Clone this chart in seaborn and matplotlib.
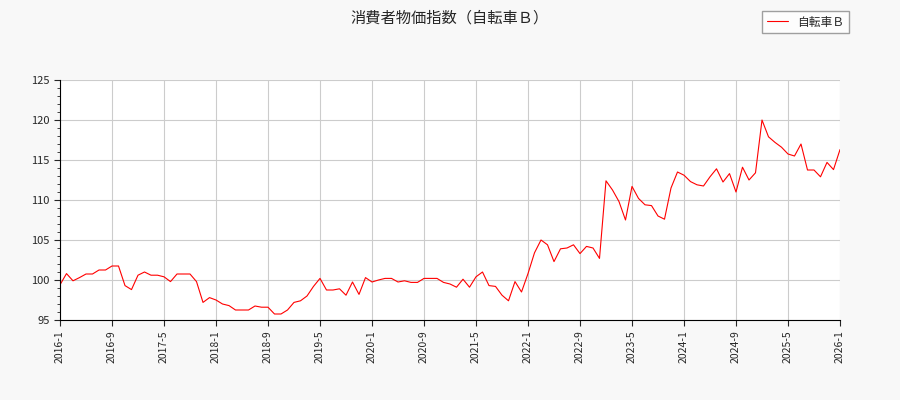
import matplotlib
matplotlib.use("Agg")
import matplotlib.pyplot as plt
import seaborn as sns
import pandas as pd
import numpy as np
from matplotlib.ticker import MultipleLocator

v2016 = [99.4,100.8,99.9,100.3,100.75,100.75,101.25,101.25,101.75,101.75,99.3,98.8]
v2017 = [100.6,101,100.6,100.6,100.4,99.8,100.75,100.75,100.75,99.8,97.2,97.8]
v2018 = [97.5,97,96.8,96.25,96.25,96.25,96.75,96.6,96.6,95.75,95.75,96.25]
v2019 = [97.2,97.4,98,99.2,100.2,98.75,98.75,98.9,98.1,99.75,98.2,100.3]
v2020 = [99.75,100,100.2,100.2,99.75,99.9,99.7,99.7,100.2,100.2,100.2,99.7]
v2021 = [99.5,99.1,100.1,99.1,100.4,101,99.3,99.2,98.1,97.4,99.8,98.5]
v2022 = [100.8,103.4,105,104.4,102.3,103.9,104,104.4,103.3,104.2,104,102.7]
v2023 = [112.4,111.25,109.8,107.5,111.7,110.2,109.4,109.3,108,107.6,111.5,113.5]
v2024 = [113.1,112.3,111.9,111.75,112.9,113.9,112.25,113.3,111,114.1,112.5,113.4]
v2025 = [120,117.9,117.2,116.6,115.75,115.5,117,113.75,113.75,112.9,114.7,113.8]
v2026 = [116.3]
values = v2016+v2017+v2018+v2019+v2020+v2021+v2022+v2023+v2024+v2025+v2026
tick_labels = ["2016-1","2016-9","2017-5","2018-1","2018-9","2019-5","2020-1","2020-9",
               "2021-5","2022-1","2022-9","2023-5","2024-1","2024-9","2025-5","2026-1"]

df = pd.DataFrame({"m": np.arange(len(values)), "v": values})

sns.set_style("white")
plt.rcParams['font.family'] = ['Noto Sans CJK JP', 'DejaVu Sans']
fig = plt.figure(figsize=(9, 4), dpi=100, facecolor="#f8f8f8")
ax = fig.add_axes([60/900, 80/400, 780/900, 240/400])
sns.lineplot(data=df, x="m", y="v", color="red", lw=0.8, ax=ax, label="自転車Ｂ")
ax.set_xlim(0, 120)
ax.set_ylim(95, 125)
ax.set_xticks(np.arange(0, 121, 8))
ax.set_xticklabels(tick_labels, rotation=90, fontsize=7.5)
ax.yaxis.set_major_locator(MultipleLocator(5))
ax.yaxis.set_minor_locator(MultipleLocator(1))
ax.xaxis.set_minor_locator(MultipleLocator(1))
ax.tick_params(axis="y", labelsize=8, which="major", length=4, left=True)
ax.tick_params(axis="y", which="minor", length=2, left=True)
ax.tick_params(axis="x", which="major", length=4, bottom=True)
ax.tick_params(axis="x", which="minor", length=0)
ax.grid(True, color="#cccccc", lw=0.8)
ax.set_xlabel("")
ax.set_ylabel("")
for s in ["top", "right"]:
    ax.spines[s].set_visible(False)
for s in ["left", "bottom"]:
    ax.spines[s].set_color("black")
fig.suptitle("消費者物価指数（自転車Ｂ）", y=0.975, fontsize=11)
ax.legend(loc="upper right", bbox_to_anchor=(855/900, 395/400), bbox_transform=fig.transFigure,
          fontsize=8.5, frameon=True, fancybox=False, edgecolor="#888888", handlelength=1.8)
fig.savefig("out.png", facecolor=fig.get_facecolor())
